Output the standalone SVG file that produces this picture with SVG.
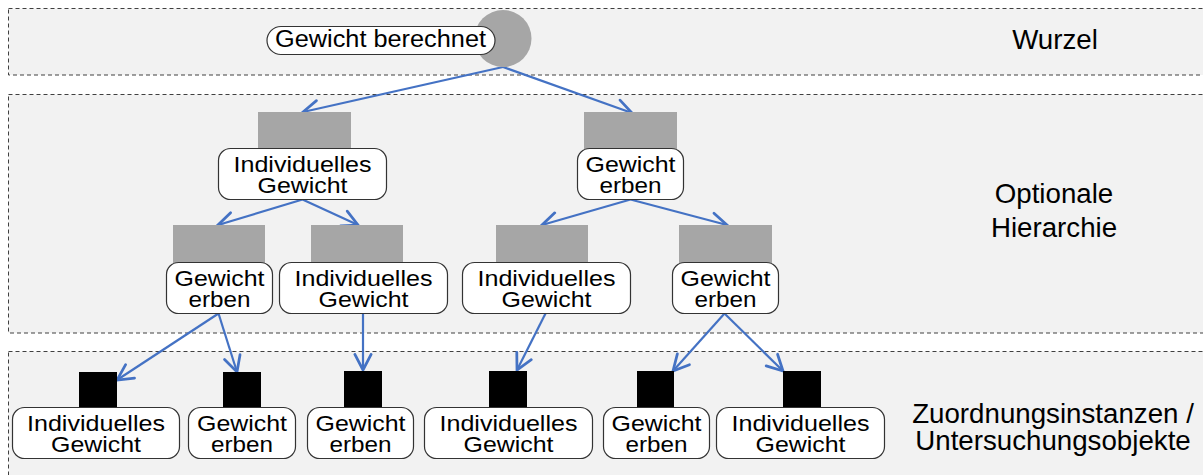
<svg xmlns="http://www.w3.org/2000/svg" width="1203" height="475" viewBox="0 0 1203 475">
<style>
.panel{fill:#f2f2f2;stroke:#404040;stroke-width:1;stroke-dasharray:4 3}
.box{fill:#ffffff;stroke:#333333;stroke-width:1.2}
.gray{fill:#a6a6a6}
.blk{fill:#000000}
.t{font-family:"Liberation Sans",Arial,sans-serif;font-size:22px;fill:#000;text-anchor:middle}
.side{font-family:"Liberation Sans",Arial,sans-serif;font-size:27.7px;fill:#000;text-anchor:middle}
.c{fill:none;stroke:#4472C4;stroke-width:2.2;marker-end:url(#ah)}
</style>
<defs>
<marker id="ah" markerUnits="userSpaceOnUse" markerWidth="20" markerHeight="20" viewBox="-14 -8 16 16" refX="0" refY="0" orient="auto">
<path d="M-12.5,-6.5 L0,0 L-12.5,6.5" fill="none" stroke="#4472C4" stroke-width="2.2" stroke-linecap="round" stroke-linejoin="miter"/>
</marker>
</defs>
<g id="panels">
<rect class="panel" x="8.5" y="8.5" width="1210" height="66.5"/>
<rect class="panel" x="8.5" y="94.5" width="1210" height="238.5"/>
<rect class="panel" x="8.5" y="351.5" width="1210" height="140"/>
<text class="side" x="1055" y="49">Wurzel</text>
<text class="side" x="1054" y="203">Optionale</text>
<text class="side" x="1054" y="237">Hierarchie</text>
<text class="side" x="1053" y="422.5">Zuordnungsinstanzen /</text>
<text class="side" x="1053" y="449.5">Untersuchungsobjekte</text>
</g>
<g id="connectors">
<line class="c" x1="503" y1="67" x2="303" y2="112"/>
<line class="c" x1="503" y1="67" x2="632" y2="113"/>
<line class="c" x1="302.5" y1="199.5" x2="218" y2="225"/>
<line class="c" x1="302.5" y1="199.5" x2="358" y2="225"/>
<line class="c" x1="630.5" y1="199.5" x2="542" y2="225"/>
<line class="c" x1="630.5" y1="199.5" x2="727" y2="225"/>
<line class="c" x1="218.5" y1="313.5" x2="117" y2="380"/>
<line class="c" x1="218.5" y1="313.5" x2="237" y2="372"/>
<line class="c" x1="363" y1="313.5" x2="363" y2="370"/>
<line class="c" x1="545.5" y1="313.5" x2="517" y2="370"/>
<line class="c" x1="724.5" y1="313.5" x2="673" y2="371"/>
<line class="c" x1="724.5" y1="313.5" x2="783" y2="371"/>
</g>
<g id="root">
<circle class="gray" cx="503" cy="38.5" r="28.5"/>
<rect class="box" x="267" y="26.5" width="228" height="28" rx="14"/>
<text class="t" x="380.5" y="47" font-size="23" textLength="211" lengthAdjust="spacingAndGlyphs" style="font-size:23px">Gewicht berechnet</text>
</g>
<g id="n1a">
<rect class="gray" x="258" y="112" width="93" height="37"/>
<rect class="box" x="218.5" y="148.5" width="168" height="51" rx="12"/>
<text class="t" x="302.5" y="171.7" textLength="138" lengthAdjust="spacingAndGlyphs">Individuelles</text>
<text class="t" x="302.5" y="192.7" textLength="90" lengthAdjust="spacingAndGlyphs">Gewicht</text>
</g>
<g id="n1b">
<rect class="gray" x="584" y="112" width="93" height="37"/>
<rect class="box" x="577.5" y="148.5" width="106" height="51" rx="12"/>
<text class="t" x="630.5" y="171.7" textLength="90" lengthAdjust="spacingAndGlyphs">Gewicht</text>
<text class="t" x="630.5" y="192.7" textLength="62" lengthAdjust="spacingAndGlyphs">erben</text>
</g>
<g id="n2a">
<rect class="gray" x="173" y="225" width="92" height="38"/>
<rect class="box" x="166.5" y="262.5" width="106" height="51" rx="12"/>
<text class="t" x="219.5" y="285.7" textLength="90" lengthAdjust="spacingAndGlyphs">Gewicht</text>
<text class="t" x="219.5" y="306.7" textLength="62" lengthAdjust="spacingAndGlyphs">erben</text>
</g>
<g id="n2b">
<rect class="gray" x="311" y="225" width="92" height="38"/>
<rect class="box" x="279.5" y="262.5" width="168" height="51" rx="12"/>
<text class="t" x="363.5" y="285.7" textLength="138" lengthAdjust="spacingAndGlyphs">Individuelles</text>
<text class="t" x="363.5" y="306.7" textLength="90" lengthAdjust="spacingAndGlyphs">Gewicht</text>
</g>
<g id="n2c">
<rect class="gray" x="496" y="225" width="92" height="38"/>
<rect class="box" x="462.5" y="262.5" width="168" height="51" rx="12"/>
<text class="t" x="546.5" y="285.7" textLength="138" lengthAdjust="spacingAndGlyphs">Individuelles</text>
<text class="t" x="546.5" y="306.7" textLength="90" lengthAdjust="spacingAndGlyphs">Gewicht</text>
</g>
<g id="n2d">
<rect class="gray" x="679" y="225" width="93" height="38"/>
<rect class="box" x="672.5" y="262.5" width="106" height="51" rx="12"/>
<text class="t" x="725.5" y="285.7" textLength="90" lengthAdjust="spacingAndGlyphs">Gewicht</text>
<text class="t" x="725.5" y="306.7" textLength="62" lengthAdjust="spacingAndGlyphs">erben</text>
</g>
<g id="n3a">
<rect class="blk" x="79" y="372" width="38" height="36"/>
<rect class="box" x="12.5" y="407.5" width="167" height="51" rx="12"/>
<text class="t" x="96" y="430.5" textLength="138" lengthAdjust="spacingAndGlyphs">Individuelles</text>
<text class="t" x="96" y="451.5" textLength="90" lengthAdjust="spacingAndGlyphs">Gewicht</text>
</g>
<g id="n3b">
<rect class="blk" x="223" y="372" width="38" height="36"/>
<rect class="box" x="188.5" y="407.5" width="107" height="51" rx="12"/>
<text class="t" x="242" y="430.5" textLength="90" lengthAdjust="spacingAndGlyphs">Gewicht</text>
<text class="t" x="242" y="451.5" textLength="62" lengthAdjust="spacingAndGlyphs">erben</text>
</g>
<g id="n3c">
<rect class="blk" x="344" y="371" width="38" height="37"/>
<rect class="box" x="307.5" y="407.5" width="106" height="51" rx="12"/>
<text class="t" x="360.5" y="430.5" textLength="90" lengthAdjust="spacingAndGlyphs">Gewicht</text>
<text class="t" x="360.5" y="451.5" textLength="62" lengthAdjust="spacingAndGlyphs">erben</text>
</g>
<g id="n3d">
<rect class="blk" x="489" y="371" width="38" height="37"/>
<rect class="box" x="424.5" y="407.5" width="168" height="51" rx="12"/>
<text class="t" x="508.5" y="430.5" textLength="138" lengthAdjust="spacingAndGlyphs">Individuelles</text>
<text class="t" x="508.5" y="451.5" textLength="90" lengthAdjust="spacingAndGlyphs">Gewicht</text>
</g>
<g id="n3e">
<rect class="blk" x="637" y="371" width="37" height="37"/>
<rect class="box" x="603.5" y="407.5" width="106" height="51" rx="12"/>
<text class="t" x="656.5" y="430.5" textLength="90" lengthAdjust="spacingAndGlyphs">Gewicht</text>
<text class="t" x="656.5" y="451.5" textLength="62" lengthAdjust="spacingAndGlyphs">erben</text>
</g>
<g id="n3f">
<rect class="blk" x="783" y="371" width="38" height="37"/>
<rect class="box" x="716.5" y="407.5" width="168" height="51" rx="12"/>
<text class="t" x="800.5" y="430.5" textLength="138" lengthAdjust="spacingAndGlyphs">Individuelles</text>
<text class="t" x="800.5" y="451.5" textLength="90" lengthAdjust="spacingAndGlyphs">Gewicht</text>
</g>
</svg>
